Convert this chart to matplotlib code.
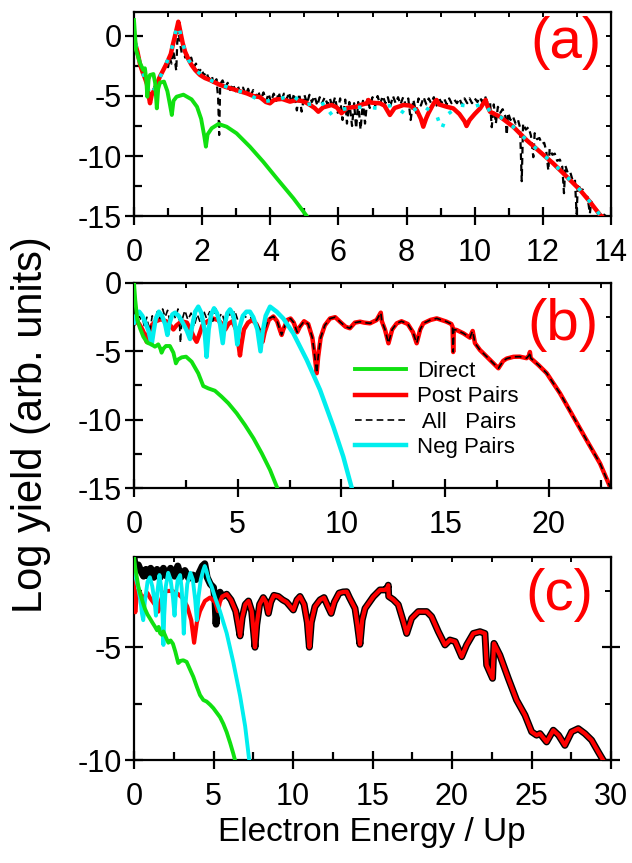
import numpy as np
import matplotlib
matplotlib.use("Agg")
import matplotlib.pyplot as plt

plt.rcParams["font.family"] = ["Liberation Sans", "DejaVu Sans"]
plt.rcParams["axes.unicode_minus"] = False

# ---------------- panel (a) ----------------
a_direct = [(0.0, 1.33), (0.06, -1.17), (0.18, -2.28), (0.27, -2.83), (0.32, -2.69), (0.36, -3.6),
            (0.39, -5.06), (0.43, -3.6), (0.47, -3.25), (0.57, -3.17), (0.62, -3.9), (0.67, -6.03),
            (0.71, -4.4), (0.76, -3.89), (0.88, -3.8), (0.98, -4.6), (1.06, -5.8), (1.11, -6.58),
            (1.16, -5.4), (1.25, -5.06), (1.45, -4.89), (1.69, -5.28), (1.85, -5.9), (1.97, -6.9),
            (2.06, -8.3), (2.11, -9.22), (2.16, -8.2), (2.28, -7.69), (2.48, -7.33), (2.72, -7.56),
            (3.01, -8.11), (3.40, -9.22), (3.79, -10.47), (4.19, -11.86), (4.68, -13.53), (5.07, -15.0)]

a_post = [(0.0, 0.2), (0.03, -0.6), (0.1, -1.3), (0.18, -2.4), (0.25, -3.0), (0.32, -3.5), (0.38, -4.0),
          (0.42, -4.8), (0.47, -5.6), (0.52, -4.9), (0.62, -4.36), (0.76, -3.39), (0.96, -2.28),
          (1.08, -1.5), (1.15, -0.61), (1.22, 0.2), (1.27, 0.8), (1.30, 1.19), (1.33, 0.8), (1.37, 0.22),
          (1.43, -0.6), (1.5, -1.31), (1.6, -1.95), (1.69, -2.42), (1.8, -2.85), (1.94, -3.25),
          (2.08, -3.5), (2.23, -3.67), (2.38, -3.88), (2.53, -4.08), (2.72, -4.27), (2.92, -4.44),
          (3.1, -4.6), (3.31, -4.78), (3.5, -5.0), (3.7, -5.1), (3.87, -5.5), (3.99, -5.61),
          (4.1, -5.35), (4.19, -5.28), (4.35, -5.25), (4.58, -5.47), (4.75, -5.35), (4.9, -5.4),
          (5.05, -5.55), (5.17, -5.75), (5.3, -6.0), (5.41, -6.31), (5.55, -5.95), (5.8, -5.75),
          (5.95, -5.95), (6.09, -6.44), (6.25, -6.0), (6.53, -5.89), (6.7, -5.7), (6.83, -5.61),
          (6.88, -5.33), (6.95, -5.55), (7.22, -5.61), (7.35, -5.8), (7.51, -6.58), (7.65, -6.0),
          (7.91, -5.75), (8.1, -5.8), (8.30, -6.17), (8.42, -6.9), (8.49, -7.56), (8.57, -6.9),
          (8.64, -6.44), (8.76, -5.8), (8.83, -5.47), (8.88, -5.33), (8.95, -5.7), (9.18, -5.9),
          (9.37, -6.03), (9.55, -6.5), (9.7, -7.1), (9.76, -7.5), (9.85, -7.0), (10.0, -6.5),
          (10.16, -6.03), (10.28, -5.5), (10.32, -5.33), (10.38, -5.9), (10.45, -6.31), (10.74, -6.72),
          (11.13, -7.56), (11.52, -8.67), (11.91, -9.64), (12.30, -10.61), (12.70, -11.72),
          (13.09, -12.83), (13.38, -13.81), (13.68, -14.92), (13.72, -15.0)]

a_all = [(0.0, 0.3), (0.1, -1.3), (0.2, -2.5), (0.3, -3.3), (0.4, -4.0), (0.47, -5.2), (0.55, -4.6),
         (0.7, -3.6), (0.85, -2.9), (0.95, -2.2), (1.0, -2.6), (1.05, -1.8), (1.1, -2.3), (1.15, -1.2),
         (1.2, -2.0), (1.24, -2.9), (1.27, -0.5), (1.3, 0.6), (1.35, -0.6), (1.4, -1.4), (1.45, -0.9),
         (1.5, -1.8), (1.55, -1.3), (1.6, -2.2), (1.68, -1.8), (1.75, -2.6), (1.82, -2.3), (1.9, -3.0),
         (1.98, -2.7), (2.05, -3.3), (2.12, -3.0), (2.2, -3.6), (2.28, -3.3), (2.35, -4.1), (2.42, -3.6),
         (2.47, -5.2), (2.5, -8.25), (2.53, -4.0), (2.6, -3.7), (2.68, -4.3), (2.75, -3.9), (2.82, -4.5),
         (2.9, -4.0), (2.98, -4.6), (3.05, -4.2), (3.12, -4.7), (3.2, -4.3), (3.28, -4.9), (3.35, -4.4),
         (3.42, -5.0), (3.5, -4.5), (3.58, -5.1), (3.65, -4.6), (3.72, -5.3), (3.8, -4.7), (3.88, -5.4),
         (3.95, -4.8), (4.02, -5.5), (4.1, -4.8), (4.18, -5.4), (4.25, -4.7), (4.32, -5.5), (4.4, -4.8),
         (4.48, -5.3), (4.55, -4.7), (4.62, -5.6), (4.7, -4.8), (4.78, -6.2), (4.85, -4.8), (4.92, -6.3),
         (5.0, -4.9), (5.08, -5.6), (5.15, -4.9), (5.22, -5.5), (5.3, -5.0), (5.38, -5.8), (5.45, -5.1),
         (5.52, -5.6), (5.6, -5.1), (5.68, -5.7), (5.75, -5.2), (5.82, -5.9), (5.9, -5.1), (5.98, -6.4),
         (6.05, -5.2), (6.12, -7.0), (6.2, -5.3), (6.25, -7.3), (6.32, -5.5), (6.4, -7.5), (6.46, -5.6),
         (6.52, -7.7), (6.58, -5.5), (6.65, -7.8), (6.72, -5.4), (6.78, -7.3), (6.85, -5.2), (6.92, -6.0),
         (7.0, -5.1), (7.08, -5.8), (7.15, -5.0), (7.22, -5.7), (7.3, -5.0), (7.38, -5.6), (7.45, -5.1),
         (7.52, -5.9), (7.6, -5.0), (7.68, -5.6), (7.75, -5.1), (7.82, -5.7), (7.9, -5.1), (7.98, -5.8),
         (8.05, -5.2), (8.12, -7.0), (8.2, -5.3), (8.28, -6.4), (8.35, -5.2), (8.42, -5.8), (8.5, -5.1),
         (8.58, -5.7), (8.65, -5.2), (8.72, -5.6), (8.8, -5.1), (8.88, -5.8), (8.95, -5.1), (9.02, -5.6),
         (9.1, -5.2), (9.18, -5.7), (9.25, -5.2), (9.32, -5.6), (9.4, -5.3), (9.48, -5.6), (9.55, -5.2),
         (9.62, -5.7), (9.7, -5.2), (9.78, -5.6), (9.85, -5.2), (9.92, -5.6), (10.0, -5.2), (10.08, -5.5),
         (10.15, -5.1), (10.22, -5.5), (10.3, -5.0), (10.38, -5.6), (10.45, -5.5), (10.5, -7.6),
         (10.56, -5.7), (10.62, -7.3), (10.68, -5.9), (10.75, -6.4), (10.82, -6.1), (10.9, -6.7),
         (10.94, -8.25), (10.98, -6.4), (11.05, -7.0), (11.12, -6.7), (11.2, -7.3), (11.27, -7.0),
         (11.33, -7.6), (11.38, -12.1), (11.42, -7.3), (11.5, -7.8), (11.58, -7.6), (11.65, -8.3),
         (11.72, -10.1), (11.76, -8.1), (11.83, -8.6), (11.9, -8.5), (11.97, -9.0), (12.04, -8.9),
         (12.1, -9.6), (12.16, -11.2), (12.2, -9.4), (12.28, -9.9), (12.35, -9.8), (12.42, -10.4),
         (12.5, -10.3), (12.57, -10.9), (12.62, -13.1), (12.66, -10.8), (12.73, -11.4), (12.8, -11.3),
         (12.87, -12.0), (12.94, -11.9), (12.99, -14.8), (13.03, -12.3), (13.1, -12.8), (13.17, -12.8),
         (13.24, -13.4), (13.31, -13.4), (13.38, -14.8), (13.42, -13.8), (13.5, -14.3), (13.57, -14.3),
         (13.64, -14.9), (13.75, -14.8), (13.85, -15.0)]

a_neg = [(0.0, 0.6), (0.05, -0.6), (0.12, -1.6), (0.2, -2.6), (0.3, -3.4), (0.4, -4.2), (0.47, -5.0),
         (0.55, -4.7), (0.7, -3.8), (0.9, -2.6), (1.05, -1.6), (1.15, -0.6), (1.22, 0.3), (1.28, 0.9),
         (1.32, 0.7), (1.38, 0.0), (1.47, -1.0), (1.6, -2.0), (1.8, -2.8), (2.0, -3.3), (2.3, -3.75),
         (2.6, -4.1), (2.9, -4.45), (3.31, -4.78), (3.75, -5.47), (4.19, -5.33), (4.63, -4.92),
         (5.02, -5.75), (5.3, -5.6), (5.51, -5.47), (5.71, -6.58), (5.90, -6.17), (6.34, -6.03),
         (6.78, -5.89), (7.17, -6.03), (7.61, -5.75), (8.0, -6.58), (8.44, -5.75), (8.88, -6.58),
         (9.03, -7.78), (9.18, -6.58), (9.57, -5.75), (9.96, -5.89), (10.3, -5.6), (10.45, -6.31),
         (10.74, -6.72), (11.13, -7.56), (11.52, -8.67), (11.91, -9.64), (12.30, -10.61),
         (12.70, -11.72), (13.09, -12.83), (13.38, -13.81), (13.68, -14.92)]

# ---------------- panel (b) ----------------
b_direct = [(0.0, 0.0), (0.06, -1.24), (0.16, -2.7), (0.29, -3.31), (0.45, -3.93), (0.64, -4.37),
            (0.85, -4.5), (1.01, -4.66), (1.17, -4.49), (1.27, -4.8), (1.33, -5.1), (1.42, -4.8),
            (1.54, -4.61), (1.73, -4.61), (1.9, -5.1), (2.02, -5.88), (2.12, -5.6), (2.30, -5.44),
            (2.51, -5.39), (2.78, -5.76), (3.10, -6.61), (3.34, -7.54), (3.58, -7.71), (3.90, -7.88),
            (4.22, -8.31), (4.55, -8.80), (4.95, -9.53), (5.35, -10.39), (5.76, -11.36), (6.16, -12.46),
            (6.56, -13.68), (6.91, -15.0)]

b_post = [(0.0, -3.0), (0.1, -2.8), (0.25, -3.0), (0.4, -3.4), (0.52, -3.8), (0.61, -4.3), (0.7, -3.7),
          (0.85, -3.1), (1.05, -2.8), (1.3, -2.65), (1.55, -2.8), (1.75, -3.1), (1.9, -3.4), (2.05, -3.1),
          (2.3, -2.8), (2.55, -2.9), (2.75, -3.5), (2.9, -4.0), (3.02, -4.3), (3.12, -3.9), (3.3, -3.1),
          (3.55, -2.8), (3.8, -2.6), (4.05, -2.7), (4.25, -3.0), (4.4, -3.4), (4.55, -3.0), (4.75, -2.8),
          (4.95, -3.5), (5.05, -4.6), (5.11, -5.3), (5.18, -4.5), (5.3, -3.4), (5.5, -2.9), (5.7, -2.7),
          (5.9, -3.0), (6.1, -3.7), (6.2, -4.3), (6.3, -3.6), (6.5, -2.7), (6.72, -2.45), (6.9, -2.8),
          (7.05, -3.5), (7.12, -3.8), (7.2, -3.4), (7.4, -2.7), (7.55, -2.6), (7.7, -2.9), (7.87, -3.6),
          (8.0, -3.2), (8.2, -2.8), (8.4, -3.0), (8.6, -4.0), (8.72, -5.4), (8.81, -6.6), (8.88, -5.4),
          (9.0, -4.0), (9.2, -3.1), (9.45, -2.6), (9.7, -2.5), (9.93, -2.83), (10.2, -3.2), (10.41, -3.31),
          (10.65, -2.9), (10.9, -2.83), (11.1, -2.9), (11.38, -2.95), (11.7, -2.71), (11.85, -2.3),
          (11.9, -2.17), (11.95, -2.8), (12.1, -3.4), (12.27, -4.41), (12.45, -3.4), (12.67, -2.95),
          (12.9, -2.8), (13.2, -3.0), (13.45, -3.6), (13.63, -4.41), (13.8, -3.4), (13.95, -2.95),
          (14.3, -2.7), (14.6, -2.59), (15.07, -2.83), (15.3, -3.0), (15.36, -3.2), (15.39, -5.05),
          (15.42, -3.4), (15.56, -3.44), (15.88, -3.68), (16.2, -4.0), (16.3, -3.6), (16.33, -3.51),
          (16.44, -4.4), (16.68, -4.9), (17.08, -5.5), (17.57, -6.24), (17.8, -5.7), (17.97, -5.53),
          (18.3, -5.4), (18.6, -5.39), (18.93, -5.5), (19.05, -5.3), (19.09, -5.05), (19.13, -5.5),
          (19.5, -6.0), (19.9, -6.6), (20.54, -8.07), (21.18, -9.78), (21.82, -11.49), (22.47, -13.2),
          (22.95, -14.9), (23.0, -15.0)]

b_all_low = [(0.0, -2.8), (0.12, -2.2), (0.25, -2.9), (0.38, -2.3), (0.5, -3.2), (0.62, -2.5),
             (0.75, -3.6), (0.88, -2.4), (1.0, -3.0), (1.12, -2.1), (1.25, -2.6), (1.38, -1.9),
             (1.5, -2.5), (1.62, -2.0), (1.75, -3.0), (1.88, -2.1), (2.0, -2.6), (2.12, -1.9),
             (2.2, -3.2), (2.24, -4.4), (2.3, -2.8), (2.45, -2.0), (2.6, -2.7), (2.75, -2.2),
             (2.9, -3.2), (3.05, -2.3), (3.2, -2.9), (3.35, -2.0), (3.5, -2.6), (3.65, -2.1),
             (3.8, -2.8), (3.95, -1.9), (4.1, -2.5), (4.25, -2.2), (4.4, -3.1), (4.55, -2.1),
             (4.7, -2.6), (4.85, -2.0), (5.0, -2.7), (5.15, -2.6), (5.3, -2.4), (5.5, -2.6),
             (5.7, -2.5), (5.9, -2.9), (6.1, -3.5), (6.2, -3.9), (6.3, -3.4), (6.5, -2.6)]

b_neg = [(0.0, -2.9), (0.1, -2.4), (0.25, -2.1), (0.4, -2.4), (0.55, -2.9), (0.7, -3.5), (0.85, -4.5),
         (0.95, -3.5), (1.05, -2.6), (1.2, -2.1), (1.35, -2.4), (1.5, -3.0), (1.61, -3.8), (1.7, -3.0),
         (1.85, -2.3), (1.98, -2.17), (2.15, -2.4), (2.35, -2.9), (2.55, -3.5), (2.7, -4.1), (2.8, -3.2),
         (2.95, -2.1), (3.1, -1.73), (3.25, -2.2), (3.4, -3.4), (3.5, -5.4), (3.6, -3.4), (3.72, -2.3),
         (3.86, -1.85), (4.0, -2.2), (4.15, -3.0), (4.28, -4.4), (4.38, -3.0), (4.5, -2.2), (4.63, -1.93),
         (4.78, -2.3), (4.9, -3.4), (4.98, -4.5), (5.08, -3.3), (5.25, -2.4), (5.42, -2.1), (5.59, -2.1),
         (5.75, -2.5), (5.95, -3.4), (6.1, -5.0), (6.2, -3.6), (6.35, -2.4), (6.56, -1.73), (6.88, -2.1),
         (7.2, -2.6), (7.68, -3.68), (8.33, -5.63), (8.97, -7.82), (9.61, -10.5), (10.09, -12.7),
         (10.5, -15.0)]

# ---------------- panel (c) ----------------
c_direct = [(0.0, -1.0), (0.08, -1.5), (0.17, -1.87), (0.27, -2.3), (0.38, -2.61), (0.55, -3.0),
            (0.69, -3.3), (0.85, -3.55), (1.0, -3.72), (1.15, -3.9), (1.32, -4.09), (1.45, -4.25),
            (1.55, -4.1), (1.64, -4.38), (1.75, -4.45), (1.85, -4.3), (2.0, -4.55), (2.16, -4.8),
            (2.3, -4.7), (2.45, -4.85), (2.6, -5.2), (2.78, -5.7), (2.95, -5.6), (3.1, -5.58),
            (3.31, -5.65), (3.5, -5.95), (3.73, -6.31), (3.95, -6.75), (4.15, -7.12), (4.36, -7.34),
            (4.57, -7.41), (4.79, -7.55), (4.99, -7.7), (5.2, -7.9), (5.41, -8.1), (5.62, -8.4),
            (5.83, -8.77), (6.05, -9.25), (6.25, -9.73), (6.35, -10.0)]

c_post = [(0.0, -1.94), (0.04, -2.9), (0.08, -3.45), (0.15, -2.9), (0.27, -2.46), (0.4, -2.6),
          (0.55, -3.0), (0.7, -2.7), (0.85, -2.6), (1.0, -2.8), (1.2, -3.0), (1.4, -3.2), (1.53, -3.42),
          (1.65, -3.0), (1.85, -2.6), (2.05, -2.51), (2.4, -2.5), (2.79, -2.65), (3.1, -2.85), (3.35, -3.2),
          (3.6, -3.8), (3.78, -4.8), (3.95, -3.9), (4.15, -3.4), (4.46, -2.95), (4.78, -2.8), (5.1, -3.0),
          (5.28, -3.4), (5.4, -3.0), (5.55, -2.75), (5.83, -2.65), (6.1, -2.9), (6.4, -3.4), (6.55, -4.0),
          (6.67, -4.5), (6.8, -3.7), (7.0, -3.1), (7.2, -2.95), (7.4, -3.4), (7.52, -4.3), (7.61, -5.0),
          (7.72, -4.0), (7.9, -3.1), (8.13, -2.8), (8.3, -3.0), (8.45, -3.5), (8.6, -3.0), (8.8, -2.7),
          (9.08, -2.75), (9.35, -2.9), (9.6, -3.0), (10.02, -3.35), (10.25, -2.9), (10.44, -2.75),
          (10.7, -3.1), (10.9, -3.9), (11.03, -5.0), (11.15, -3.9), (11.38, -3.2), (11.7, -2.9),
          (11.95, -2.8), (12.2, -3.2), (12.4, -3.5), (12.6, -3.0), (12.9, -2.6), (13.15, -2.55),
          (13.38, -2.54), (13.55, -2.8), (13.9, -3.28), (14.05, -4.0), (14.21, -4.87), (14.35, -3.8),
          (14.53, -3.28), (15.05, -2.76), (15.47, -2.46), (15.78, -2.46), (15.95, -2.35), (15.99, -2.25),
          (16.02, -2.75), (16.31, -2.89), (16.62, -3.11), (16.94, -3.86), (17.15, -4.39), (17.46, -3.72),
          (17.88, -3.42), (18.41, -3.42), (18.72, -3.64), (19.14, -4.31), (19.56, -4.9), (19.87, -4.68),
          (20.2, -4.75), (20.61, -5.42), (20.92, -4.9), (21.34, -4.39), (21.76, -4.31), (22.07, -4.39),
          (22.18, -5.79), (22.55, -6.38), (22.64, -4.83), (23.01, -5.35), (23.54, -6.38), (24.06, -7.34),
          (24.59, -8.01), (25.01, -8.75), (25.32, -8.9), (25.53, -8.83), (25.95, -9.2), (26.37, -8.68),
          (26.7, -8.9), (27.1, -9.35), (27.52, -8.75), (27.94, -8.61), (28.36, -8.83), (28.78, -9.12),
          (29.2, -9.64), (29.51, -10.01)]

c_all_low = [(0.0, -1.0), (0.1, -1.6), (0.27, -1.35), (0.45, -1.65), (0.6, -1.85), (0.75, -1.55),
             (0.9, -1.85), (1.05, -1.5), (1.25, -1.9), (1.45, -1.55), (1.65, -1.9), (1.85, -1.5),
             (2.05, -1.85), (2.3, -1.5), (2.55, -1.85), (2.75, -1.4), (2.95, -1.9), (3.2, -1.6),
             (3.45, -1.95), (3.7, -1.8), (3.9, -2.0), (4.1, -1.7), (4.3, -1.4), (4.45, -1.3),
             (4.6, -1.9), (4.8, -2.2), (5.0, -2.35), (5.1, -3.0), (5.16, -3.98), (5.25, -3.0),
             (5.41, -2.56), (5.55, -2.75)]

c_neg = [(0.0, -1.7), (0.1, -1.9), (0.25, -2.3), (0.4, -2.9), (0.5, -3.5), (0.58, -3.8), (0.68, -3.0),
         (0.85, -2.1), (1.0, -1.9), (1.15, -2.3), (1.3, -3.0), (1.38, -3.6), (1.46, -2.6), (1.6, -1.8),
         (1.72, -2.4), (1.8, -3.6), (1.85, -4.9), (1.9, -3.6), (2.0, -2.3), (2.15, -1.7), (2.3, -2.0),
         (2.45, -2.8), (2.55, -3.6), (2.62, -2.8), (2.75, -2.0), (2.9, -1.8), (3.0, -2.4), (3.08, -3.5),
         (3.13, -4.4), (3.2, -3.4), (3.35, -2.2), (3.55, -1.7), (3.7, -2.0), (3.85, -2.9), (3.95, -3.8),
         (4.05, -2.8), (4.2, -2.0), (4.35, -1.6), (4.45, -1.4), (4.55, -1.6), (4.7, -2.0), (4.89, -2.32),
         (5.1, -2.8), (5.41, -3.41), (5.83, -4.38), (6.25, -5.68), (6.67, -7.15), (6.99, -8.5),
         (7.24, -9.97)]

# All-pairs curves join the post-ionization curve once the negative-time pairs have died out
b_all = b_all_low + [p for p in b_post if p[0] >= 6.7]
c_all = c_all_low + [p for p in c_post if p[0] > 5.6]

GREEN = "#10e010"
RED = "#ff0000"
CYAN = "#00eeee"
BLACK = "#000000"


def xy(points):
    arr = np.array(points, dtype=float)
    return arr[:, 0], arr[:, 1]


W, H = 632, 863
fig = plt.figure(figsize=(W / 100, H / 100), dpi=100)


def panel(left, top, right, bottom):
    return fig.add_axes([left / W, 1 - bottom / H, (right - left) / W, (bottom - top) / H])


ax_a = panel(134, 12, 611, 216)
ax_b = panel(134, 283, 611, 488)
ax_c = panel(134, 557, 611, 760)


def style(ax, xlim, ylim, xmaj, xmin, ymaj, ymin, right_major_long=False):
    ax.set_xlim(*xlim)
    ax.set_ylim(*ylim)
    ax.set_xticks(xmaj)
    ax.set_xticks(xmin, minor=True)
    ax.set_yticks(ymaj)
    ax.set_yticks(ymin, minor=True)
    ax.set_xticklabels([f"{v:g}" for v in xmaj])
    ax.set_yticklabels([f"{v:g}" for v in ymaj])
    ax.tick_params(which="major", direction="inout", length=13, width=1.6, labelsize=22)
    ax.tick_params(axis="x", which="major", pad=9)
    ax.tick_params(axis="y", which="major", pad=2)
    ax.tick_params(which="minor", direction="in", length=6, width=1.6)
    for s in ax.spines.values():
        s.set_linewidth(1.6)
    top = ax.secondary_xaxis("top")
    top.set_xticks(sorted(list(xmaj) + list(xmin)))
    top.set_xticklabels([])
    top.tick_params(direction="in", length=3.5, width=1.4)
    rgt = ax.secondary_yaxis("right")
    if right_major_long:
        rgt.set_yticks(ymaj)
        rgt.set_yticks(ymin, minor=True)
        rgt.tick_params(which="major", direction="inout", length=13, width=1.6)
        rgt.tick_params(which="minor", direction="in", length=4, width=1.4)
    else:
        rgt.set_yticks(sorted(list(ymaj) + list(ymin)))
        rgt.tick_params(direction="in", length=3.5, width=1.4)
    rgt.set_yticklabels([])
    rgt.set_yticklabels([], minor=True)


# (a)
ax_a.plot(*xy(a_all), color=BLACK, lw=1.6, ls=(0, (3.0, 2.0)), zorder=2)
ax_a.plot(*xy(a_post), color=RED, lw=3.2, zorder=3, solid_joinstyle="round")
ax_a.plot(*xy(a_neg), color=CYAN, lw=2.6, ls=(0, (1.0, 3.2)), zorder=4)
ax_a.plot(*xy(a_direct), color=GREEN, lw=2.8, zorder=5)
style(ax_a, (0, 14), (-15, 2), list(range(0, 15, 2)), list(range(1, 14, 2)),
      [0, -5, -10, -15], [-2.5, -7.5, -12.5])

# (b)
h_post, = ax_b.plot(*xy(b_post), color=RED, lw=3.2, zorder=2, label="Post Pairs")
h_all, = ax_b.plot(*xy(b_all), color=BLACK, lw=1.2, ls=(0, (4.0, 2.5)), zorder=3, label=" All   Pairs")
h_neg, = ax_b.plot(*xy(b_neg), color=CYAN, lw=3.2, zorder=4, label="Neg Pairs")
h_dir, = ax_b.plot(*xy(b_direct), color=GREEN, lw=2.8, zorder=5, label="Direct")
style(ax_b, (0, 23), (-15, 0), [0, 5, 10, 15, 20], [2.5, 7.5, 12.5, 17.5, 22.5],
      [0, -5, -10, -15], [-2.5, -7.5, -12.5])
ax_b.legend([h_dir, h_post, h_all, h_neg], ["Direct", "Post Pairs", " All   Pairs", "Neg Pairs"],
            loc="upper left", bbox_to_anchor=(0.463, 0.62), frameon=False, fontsize=16,
            handlelength=2.3, handletextpad=0.5, labelspacing=0.2, borderpad=0, borderaxespad=0)

# (c)
ax_c.plot(*xy(c_all), color=BLACK, lw=5.0, zorder=2, solid_joinstyle="round")
ax_c.plot(*xy(c_post), color=RED, lw=3.0, zorder=3, solid_joinstyle="round")
ax_c.plot(*xy(c_neg), color=CYAN, lw=2.8, zorder=4)
ax_c.plot(*xy(c_direct), color=GREEN, lw=2.8, zorder=5)
style(ax_c, (0, 30), (-10, -1), [0, 5, 10, 15, 20, 25, 30], [2.5, 7.5, 12.5, 17.5, 22.5, 27.5],
      [-5, -10], [-2.5, -7.5], right_major_long=True)

# panel tags
for txt, cx, cy in [("(a)", 566, 43), ("(b)", 563, 325), ("(c)", 559, 595)]:
    fig.text(cx / W, 1 - cy / H, txt, color=RED, fontsize=42, ha="center", va="center")

fig.text(372 / W, 1 - 832 / H, "Electron Energy / Up", fontsize=24, ha="center", va="center")
fig.text(31 / W, 1 - 425 / H, "Log yield (arb. units)", fontsize=30, ha="center", va="center",
         rotation=90)

fig.savefig("out.png", dpi=100)
